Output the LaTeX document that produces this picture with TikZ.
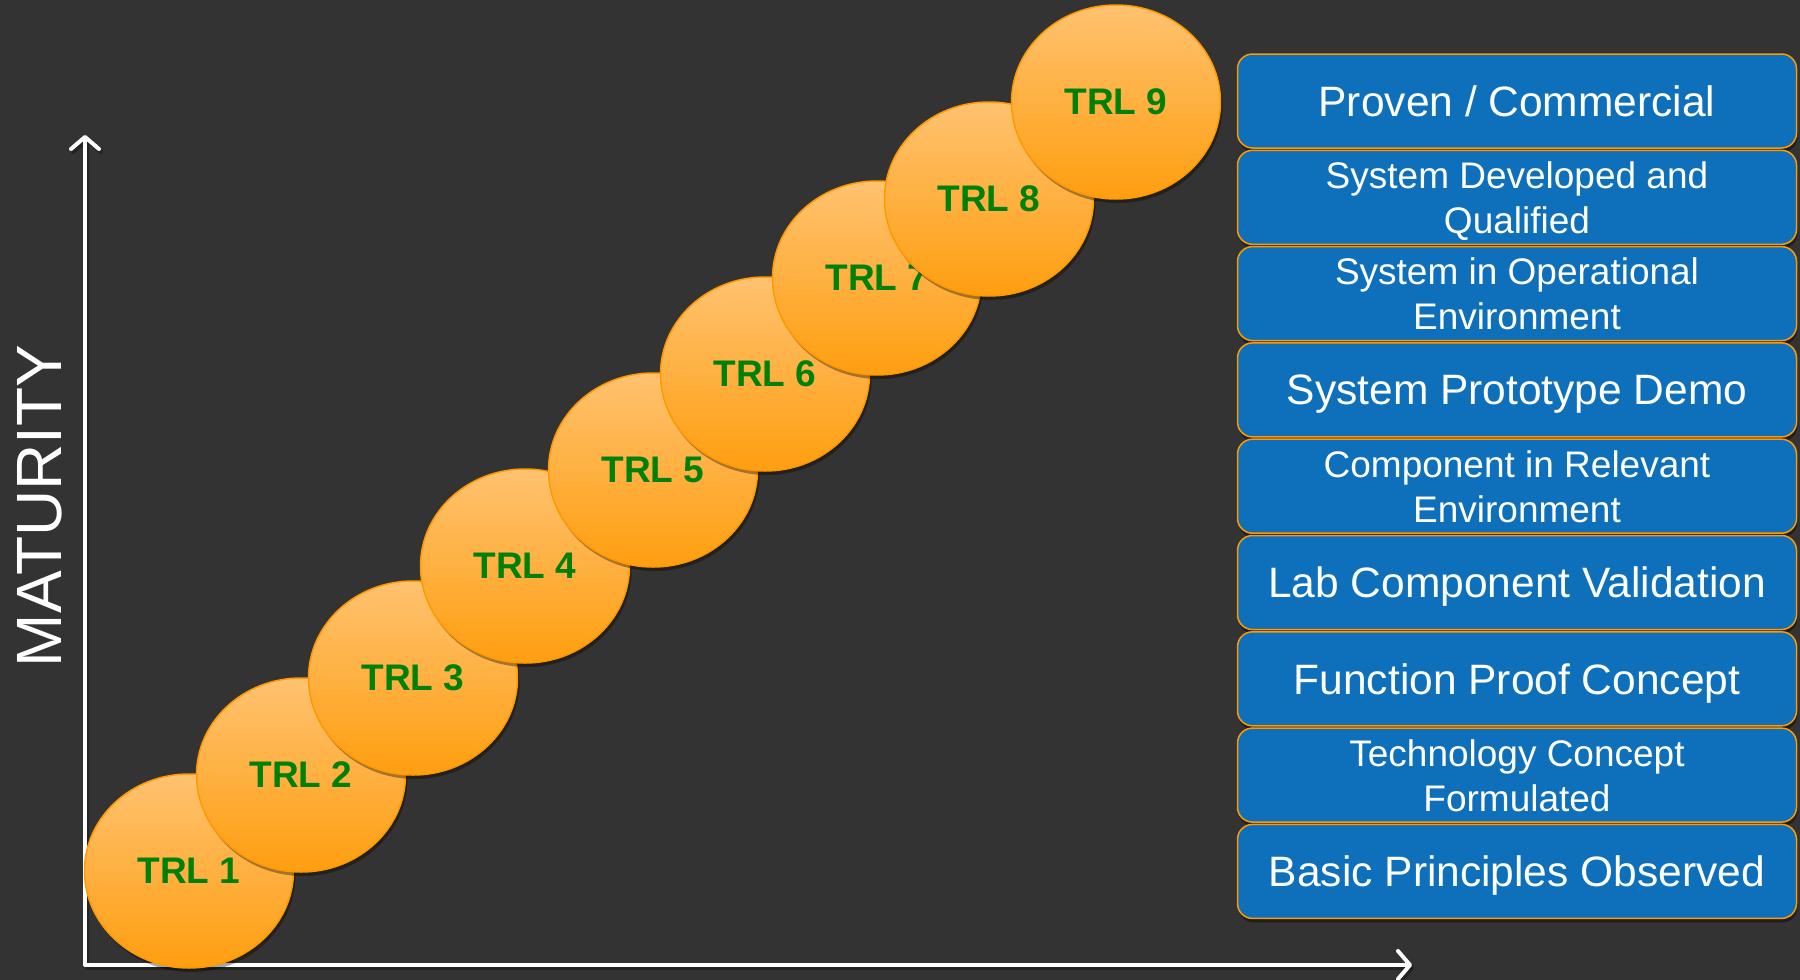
\documentclass[tikz,border=0pt]{standalone}
\usepackage{fontspec}
\setmainfont{Liberation Sans}
\usetikzlibrary{shapes.geometric,shadows,arrows.meta}
\definecolor{bg}{RGB}{51,51,51}
\definecolor{orng}{RGB}{255,153,0}
\definecolor{orTop}{RGB}{255,194,112}
\definecolor{orBot}{RGB}{255,158,16}
\definecolor{boxblue}{RGB}{14,112,187}
\definecolor{trlgreen}{RGB}{0,128,0}
\begin{document}
\begin{tikzpicture}[x=1pt,y=-1pt,
 trl/.style={ellipse, minimum width=209pt, minimum height=194pt, inner sep=0pt,
   draw=orng, line width=1.5pt, top color=orTop, bottom color=orBot,
   drop shadow={shadow xshift=2pt, shadow yshift=-4pt, opacity=0.35, fill=black},
   text=trlgreen, font=\fontsize{37}{44}\selectfont\bfseries},
 lvl/.style={rectangle, rounded corners=15pt, minimum width=559pt, minimum height=94pt,
   inner sep=0pt, draw=orng, line width=1.5pt, fill=boxblue, text=white, align=center,
   text depth=0pt,
   drop shadow={shadow xshift=1pt, shadow yshift=-4pt, opacity=0.4, fill=black}},
 big/.style={font=\fontsize{42.5}{50}\selectfont},
 two/.style={font=\fontsize{37}{45}\selectfont},
 axisline/.style={line width=4pt, line cap=round, line join=round,
   arrows={Straight Barb[length=12pt,width=28pt,round]-Straight Barb[length=12pt,width=28pt,round]}}
]
\fill[bg] (0,0) rectangle (1800,980);
\useasboundingbox (0,0) rectangle (1800,980);

% axes
\coordinate (ytip) at (85,135);
\coordinate (orig) at (85,965);
\coordinate (xtip) at (1412,965);
\draw[axisline, black, opacity=0.3, transform canvas={xshift=2pt,yshift=-3pt}] (ytip) -- (orig) -- (xtip);
\draw[axisline, white] (ytip) -- (orig) -- (xtip);

\node[rotate=90, text=white, font=\fontsize{64}{70}\selectfont] (mat) at (40,506) {MATURITY};

% TRL circles
\node[trl] (t1) at (189,871) {TRL 1};
\node[trl] (t2) at (301,775) {TRL 2};
\node[trl] (t3) at (413,678) {TRL 3};
\node[trl] (t4) at (525,566) {TRL 4};
\node[trl] (t5) at (653,470) {TRL 5};
\node[trl] (t6) at (765,374) {TRL 6};
\node[trl] (t7) at (877,278) {TRL 7};
\node[trl] (t8) at (989,199) {TRL 8};
\node[trl] (t9) at (1116,102) {TRL 9};

% level boxes
\node[lvl,big] (b9) at (1517,101.0) {Proven / Commercial};
\node[lvl,two] (b8) at (1517,197.3) {System Developed and\\Qualified};
\node[lvl,two] (b7) at (1517,293.6) {System in Operational\\Environment};
\node[lvl,big] (b6) at (1517,389.9) {System Prototype Demo};
\node[lvl,two] (b5) at (1517,486.2) {Component in Relevant\\Environment};
\node[lvl,big] (b4) at (1517,582.5) {Lab Component Validation};
\node[lvl,big] (b3) at (1517,678.8) {Function Proof Concept};
\node[lvl,two] (b2) at (1517,775.1) {Technology Concept\\Formulated};
\node[lvl,big] (b1) at (1517,871.4) {Basic Principles Observed};
\end{tikzpicture}
\end{document}
